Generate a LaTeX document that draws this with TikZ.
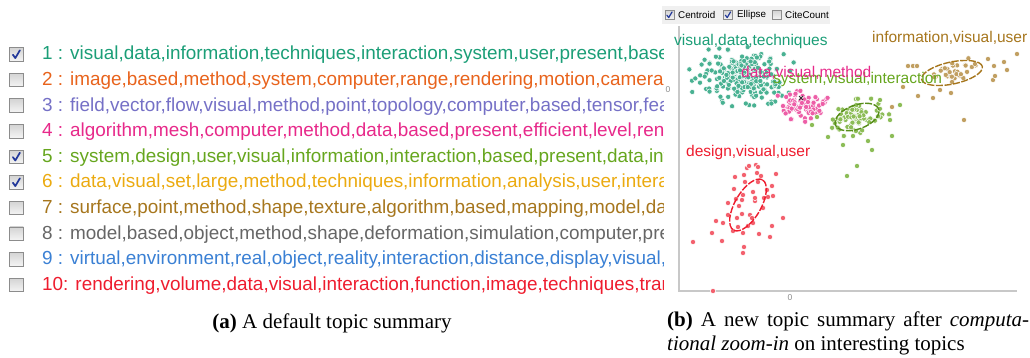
\documentclass[tikz,border=0pt]{standalone}
\usepackage{fontspec}
\setmainfont{Liberation Serif}
\newfontfamily\uisans{Liberation Sans}
\definecolor{cTeal}{HTML}{1B9E77}
\definecolor{cOrange}{HTML}{E8631C}
\definecolor{cViolet}{HTML}{7570C6}
\definecolor{cPink}{HTML}{E7298A}
\definecolor{cGreen}{HTML}{66A61E}
\definecolor{cGold}{HTML}{EBAA10}
\definecolor{cBrown}{HTML}{A6761D}
\definecolor{cGrey}{HTML}{666666}
\definecolor{cBlue}{HTML}{3A80D4}
\definecolor{cRed}{HTML}{EE1C2E}
\definecolor{boxborder}{HTML}{8C8C8C}
\definecolor{boxfill}{HTML}{D4D4D4}
\definecolor{tickblue}{HTML}{22389A}
\definecolor{axisgrey}{HTML}{C8C8C8}

\tikzset{
  cbox/.style={draw=boxborder, line width=0.9pt, top color=boxfill, bottom color=white!96!black,
    minimum size=13.5pt, inner sep=0pt},
  smallbox/.style={cbox, minimum size=9pt, line width=0.7pt},
  checkmark/.style={draw=tickblue, line width=1.7pt, line cap=round, line join=round},
  rowtext/.style={anchor=base west, inner sep=0pt, font=\uisans\fontsize{18.9}{20}\selectfont},
  clabel/.style={anchor=base west, inner sep=0pt, font=\uisans\fontsize{15.5}{17}\selectfont},
  uilabel/.style={anchor=west, inner sep=0pt, font=\uisans\fontsize{9.8}{11}\selectfont},
  axlabel/.style={inner sep=0pt, text=black!45, font=\uisans\fontsize{8.5}{10}\selectfont},
  dotT/.style={fill=cTeal!80!white, draw=white, line width=0.5pt},
  dotP/.style={fill=cPink!75!white, draw=white, line width=0.5pt},
  dotG/.style={fill=cGreen!75!white, draw=white, line width=0.5pt},
  dotB/.style={fill=cBrown!70!white, draw=white, line width=0.5pt},
  dotR/.style={fill=cRed!70!white, draw=white, line width=0.5pt},
  ellline/.style={line width=1.4pt, dash pattern=on 7pt off 1.6pt},
  captext/.style={inner sep=0pt, font=\fontsize{21}{23.3}\selectfont},
}

% a cloud of scattered dots: seed, count, centre x, centre y, spread x, spread y, tilt, style
\newcommand\dotcloud[8]{%
  \pgfmathsetseed{#1}%
  \foreach \k in {1,...,#2}{%
    \pgfmathsetmacro\cu{rand+rand+rand}%
    \pgfmathsetmacro\cv{rand+rand+rand}%
    \pgfmathsetmacro\px{#3+#5*\cu*cos(#7)+#6*\cv*sin(#7)}%
    \pgfmathsetmacro\py{#4-#5*\cu*sin(#7)+#6*\cv*cos(#7)}%
    \filldraw[#8] (\px,\py) circle[radius=2.6pt];
  }}

\begin{document}
\begin{tikzpicture}[x=1pt, y=-1pt]
\useasboundingbox (0,0) rectangle (1030,358);

% ---------- topic list ----------
\foreach \i in {1,...,10}{
  \node[cbox] (cb\i) at (16.5, 54.5+25.6*\i-25.6) {};
}
\foreach \i in {1,5,6}{
  \draw[checkmark] ([shift={(-3.6,0.2)}]cb\i.center) -- ([shift={(-1.2,3.6)}]cb\i.center)
              -- ([shift={(3.4,-4.2)}]cb\i.center);
}

\begin{scope}
\clip (0,30) rectangle (663,300);
\node[rowtext, text=cTeal]   (t1)  at (42,60)    {1 : visual,data,information,techniques,interaction,system,user,present,based,interface};
\node[rowtext, text=cOrange] (t2)  at (42,85.6)  {2 : image,based,method,system,computer,range,rendering,motion,camera,depth};
\node[rowtext, text=cViolet] (t3)  at (42,111.2) {3 : field,vector,flow,visual,method,point,topology,computer,based,tensor,feature};
\node[rowtext, text=cPink]   (t4)  at (42,136.8) {4 : algorithm,mesh,computer,method,data,based,present,efficient,level,rendering};
\node[rowtext, text=cGreen]  (t5)  at (42,162.4) {5 : system,design,user,visual,information,interaction,based,present,data,interface};
\node[rowtext, text=cGold]   (t6)  at (42,188)   {6 : data,visual,set,large,method,techniques,information,analysis,user,interaction};
\node[rowtext, text=cBrown]  (t7)  at (42,213.6) {7 : surface,point,method,shape,texture,algorithm,based,mapping,model,data};
\node[rowtext, text=cGrey]   (t8)  at (42,239.2) {8 : model,based,object,method,shape,deformation,simulation,computer,present};
\node[rowtext, text=cBlue]   (t9)  at (42,264.8) {9 : virtual,environment,real,object,reality,interaction,distance,display,visual,user};
\node[rowtext, text=cRed]    (t10) at (42,290.4) {10: rendering,volume,data,visual,interaction,function,image,techniques,transfer};
\end{scope}

% ---------- scatter view ----------
\fill[black!6] (662,6) rectangle (830,24);
\node[smallbox] (ckA) at (669.5,15) {};
\node[uilabel] (lbA) at (678,15) {Centroid};
\node[smallbox] (ckB) at (728,15) {};
\node[uilabel] (lbB) at (737,15) {Ellipse};
\node[smallbox] (ckC) at (776.5,15) {};
\node[uilabel] (lbC) at (785,15) {CiteCount};
\foreach \c in {ckA,ckB}{
  \draw[checkmark, line width=1.2pt] ([shift={(-2.6,0.2)}]\c.center) -- ([shift={(-0.8,2.6)}]\c.center)
              -- ([shift={(2.5,-3)}]\c.center);
}

\coordinate (axtop) at (679,26);
\coordinate (axorigin) at (679,291);
\coordinate (axright) at (1017,291);
\draw[axisgrey, line width=1.6pt] (axtop) -- (axorigin) -- (axright);
\node[axlabel] (y0) at (668,90) {0};
\node[axlabel] (x0) at (790,298) {0};

% topic clusters
\dotcloud{11}{240}{742}{78}{21}{12.5}{-8}{dotT}
\dotcloud{23}{85}{804}{105}{10.5}{7}{0}{dotP}
\dotcloud{37}{75}{857}{117}{13}{8}{15}{dotG}
\foreach \x/\y in {828/137,843/145,892/136,890/120,880/100,857/166,847/176,868/141,900/105,817/117,812/125,872/150}
  \filldraw[dotG] (\x,\y) circle[radius=2.6pt];
\dotcloud{53}{30}{955}{72}{14}{5}{12}{dotB}
\foreach \x/\y in {908/66,913/66,917/66,903/87,918/96,933/98,951/93,940/90,964/120,993/80,1007/70,1017/54,988/59,994/66,995/76,892/107,1004/62,975/64}
  \filldraw[dotB] (\x,\y) circle[radius=2.6pt];
\foreach \x/\y in {693/242,712/233,716/221,722/241,723/223,728/215,728/203,733/231,734/189,735/177,
  736/199,737/218,738/227,739/206,742/214,742/200,743/195,743/233,744/247,743/253,744/175,745/182,
  747/168,748/226,749/166,750/215,752/218,753/192,753/223,755/201,755/198,756/165,757/173,758/167,
  758/182,759/234,761/176,763/208,764/198,767/190,768/197,770/237,772/186,772/226,773/196,776/174,
  783/218,713/291}
  \filldraw[dotR] (\x,\y) circle[radius=2.6pt];

% centroid mark
\draw[black!80, line width=0.9pt] (799,96) -- (803,100) (803,96) -- (799,100);

% covariance ellipses
\draw[ellline, cBrown, rotate around={12:(952,73)}] (952,73) ellipse[x radius=31pt, y radius=11pt];
\draw[ellline, cGreen!85!black, rotate around={20:(857,117)}] (857,117) ellipse[x radius=23pt, y radius=12pt];
\draw[ellline, cRed, rotate around={60:(748,205)}] (748,205) ellipse[x radius=29pt, y radius=13pt];

% cluster labels
\node[clabel, text=cTeal]  (lT) at (674,46) {visual,data,techniques};
\node[clabel, text=cBrown] (lB) at (872,43) {information,visual,user};
\node[clabel, text=cGreen] (lG) at (773,84) {system,visual,interaction};
\node[clabel, text=cPink]  (lP) at (741,78) {data,visual,method};
\node[clabel, text=cRed]   (lR) at (686,157) {design,visual,user};

% ---------- sub-captions ----------
\node[captext, anchor=base] (capa) at (332,328) {\textbf{(a)} A default topic summary};
\node[captext, anchor=north west, text width=362pt, align=justify] (capb) at (667,312)
  {\textbf{(b)} A new topic summary after \textit{computa-\linebreak tional zoom-in} on interesting topics};
\end{tikzpicture}
\end{document}
